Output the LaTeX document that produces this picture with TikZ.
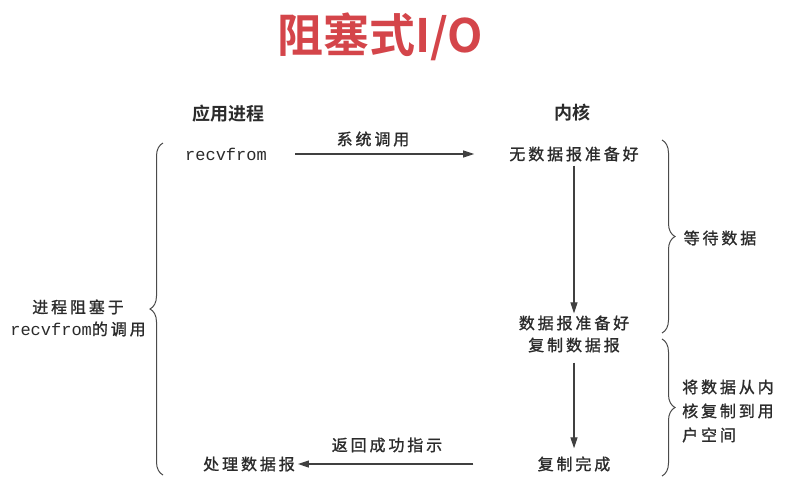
\documentclass[tikz,border=0pt]{standalone}
\usepackage{fontspec}
\setmonofont{Liberation Mono}
\newfontfamily\cjk[LetterSpace=18,FakeBold=1.2,BoldFont={Noto Sans CJK SC Bold}]{Noto Sans CJK SC}
\newfontfamily\cjkb[BoldFont={Noto Sans CJK SC Bold}]{Noto Sans CJK SC}
\usetikzlibrary{arrows.meta,decorations.pathreplacing}
\definecolor{titlered}{HTML}{D4454A}
\definecolor{ink}{HTML}{2B2B2B}
\tikzset{
  txt/.style={inner sep=2pt,text=ink,font=\cjk\fontsize{16}{22}\selectfont},
  head/.style={inner sep=2pt,text=ink,font=\cjkb\bfseries\fontsize{18}{22}\selectfont},
  mono/.style={inner sep=2pt,text=ink,font=\ttfamily\fontsize{17}{22}\selectfont},
  arr/.style={draw=ink!90,line width=1.1pt,-{Triangle[length=11pt,width=7pt]}},
  brc/.style={draw=ink!85,line width=1pt,decorate,decoration={brace,amplitude=13pt}}
}
\begin{document}
\begin{tikzpicture}[x=1pt,y=-1pt]
\useasboundingbox[fill=white] (0,0) rectangle (804,496);
% title
\node[inner sep=0pt,text=titlered,font=\cjkb\bfseries\fontsize{46}{50}\selectfont] (title) at (380,37) {阻塞式I/O};
% headings
\node[head] (app) at (228,114) {应用进程};
\node[head] (kern) at (572,113) {内核};
% nodes
\node[mono] (recv) at (226,154) {recvfrom};
\node[txt] (nodata) at (574,154) {无数据报准备好};
\node[txt,align=center] (ready) at (574,334) {数据报准备好\\复制数据报};
\node[txt] (done) at (574,464) {复制完成};
\node[txt] (proc) at (249,464) {处理数据报};
% connectors
\draw[arr,shorten <=26pt,shorten >=33pt] (recv.east) -- (nodata.west);
\node[txt] (syscall) at (373,139) {系统调用};
\draw[arr,shorten <=2pt,shorten >=0pt] (nodata.south) -- (ready.north);
\draw[arr,shorten <=8pt,shorten >=6pt] (ready.south) -- (done.north);
\draw[arr,shorten <=62pt,shorten >=1pt] (done.west) -- (proc.east);
\node[txt] (ret) at (387,445) {返回成功指示};
% braces
\coordinate (lb1) at (163,475);
\coordinate (lb2) at (163,143);
\draw[brc] (lb1) -- (lb2);
\coordinate (rb1) at (662,140);
\coordinate (rb2) at (662,333);
\draw[brc] (rb1) -- (rb2);
\coordinate (rb3) at (662,339);
\coordinate (rb4) at (662,476);
\draw[brc] (rb3) -- (rb4);
% brace labels
\node[txt,align=center] (blocked) at (78,318) {进程阻塞于\\{\ttfamily\fontsize{17}{22}\selectfont recvfrom}的调用};
\node[txt] (wait) at (720,238) {等待数据};
\node[txt,align=left,anchor=west,font=\cjk\fontsize{16}{24}\selectfont] (copy) at (680,411) {将数据从内\\核复制到用\\户空间};
\end{tikzpicture}
\end{document}
